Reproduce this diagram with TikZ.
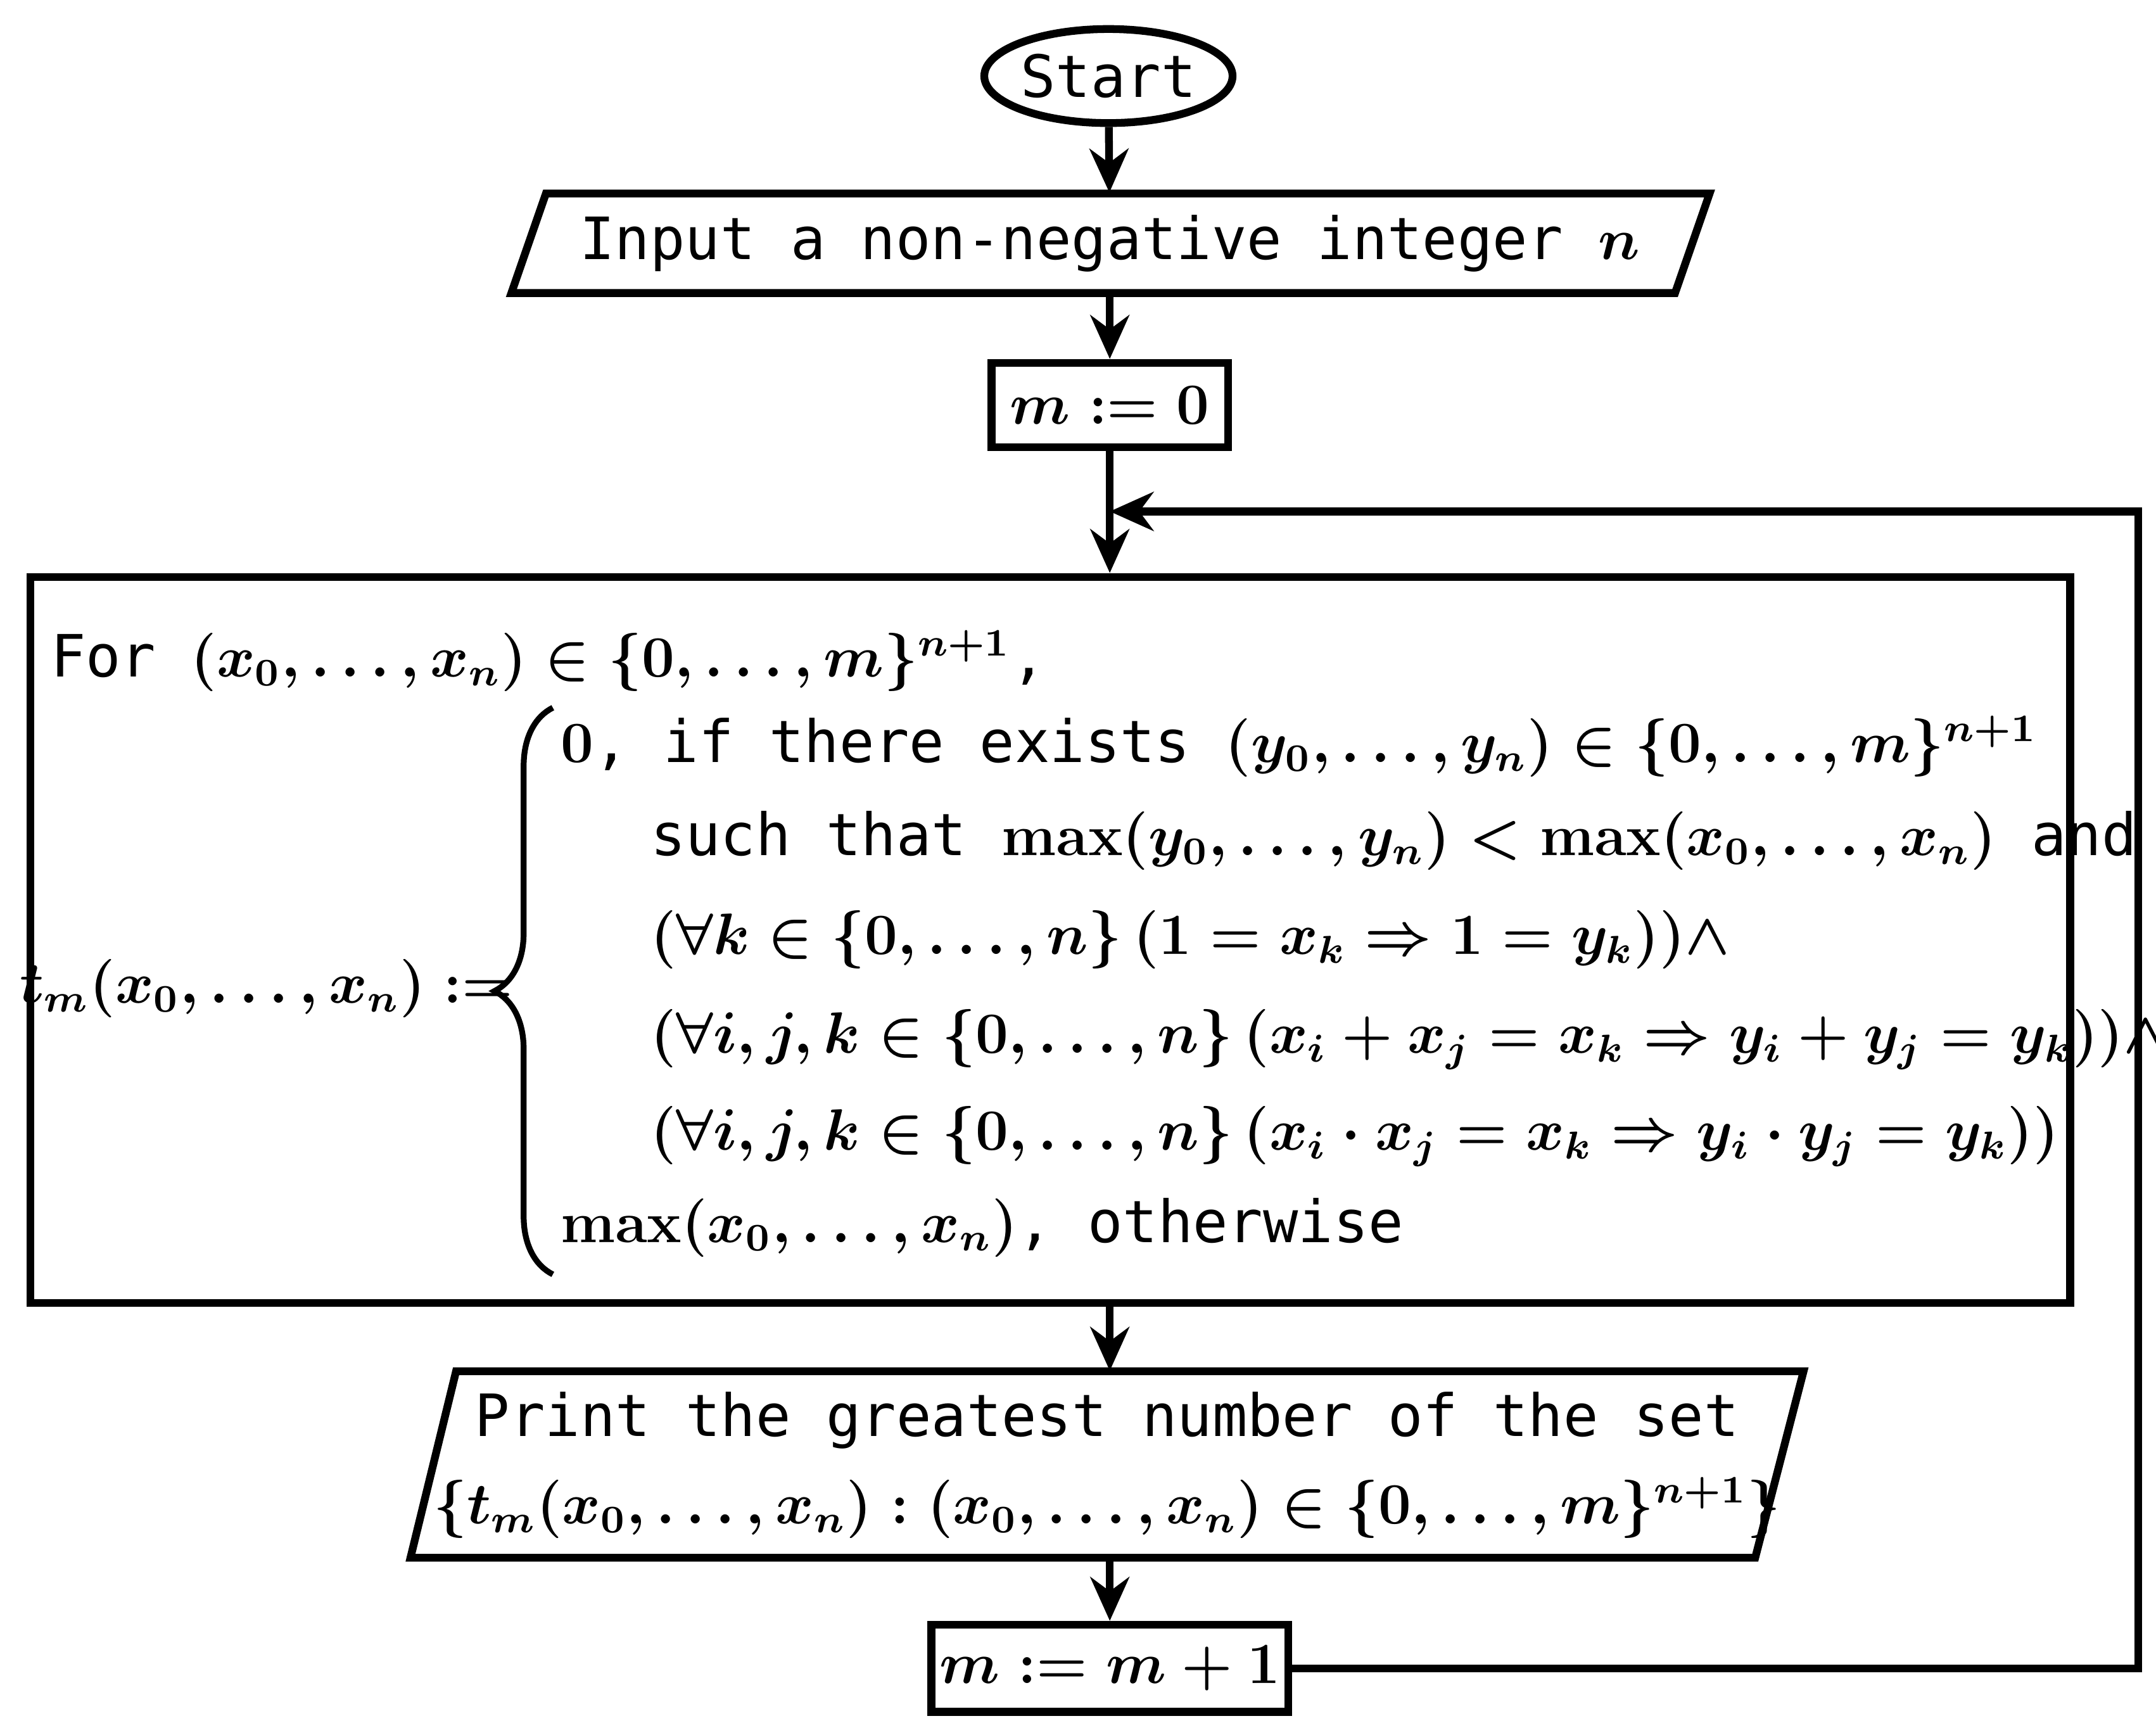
\documentclass[tikz,border=0pt]{standalone}
\usepackage{fontspec}
\usepackage{amsmath,amssymb}
\setmainfont{DejaVu Sans Mono}
\usetikzlibrary{shapes.geometric,decorations.pathreplacing,arrows.meta}
\newcommand{\mxx}{\mathbf{max}}
\begin{document}
\begin{tikzpicture}[x=0.01cm,y=-0.01cm,
  every node/.style={font=\fontsize{12}{14}\selectfont\boldmath},
  box/.style={draw,line width=1.6pt,inner sep=0pt},
  pg/.style={draw,line width=1.6pt},
  arr/.style={line width=1.6pt,-{Stealth[length=9pt,width=8pt]}},
  ln/.style={anchor=west,inner sep=0pt}]
\useasboundingbox (0,0) rectangle (1560,1250);
\node[box,ellipse,minimum width=1.72cm,minimum height=0.68cm] (start) at (802,55) {Start};
\draw[pg] (395,140) -- (1237,140) -- (1212,212) -- (370,212) -- cycle;
\node[inner sep=0pt,minimum width=8.2cm,minimum height=0.72cm] (input) at (803,176) {Input a non-negative integer $n$};
\node[box,minimum width=1.71cm,minimum height=0.61cm] (m0) at (803,293) {$m := 0$};
\node[box,minimum width=14.75cm,minimum height=5.25cm] (big) at (760,680) {};
\coordinate (loop) at (803,370);
\draw[pg] (330,992) -- (1305,992) -- (1270,1127) -- (297,1127) -- cycle;
\node[inner sep=0pt,minimum width=9.4cm,minimum height=1.35cm,align=center] (print) at (801,1060)
 {Print the greatest number of the set\\[4pt] $\{t_m(x_0,\ldots,x_n) : (x_0,\ldots,x_n) \in \{0,\ldots,m\}^{n+1}\}$};
\node[box,minimum width=2.58cm,minimum height=0.63cm] (m1) at (803,1207) {$m := m+1$};
\node[ln] (for) at (36,478) {For $(x_0,\ldots,x_n)\in\{0,\ldots,m\}^{n+1}$,};
\node[anchor=east,inner sep=0pt] (tm) at (372,715) {$t_m(x_0,\ldots,x_n) :=$};
\node[ln] (c1) at (405,540) {$0$, if there exists $(y_0,\ldots,y_n)\in\{0,\ldots,m\}^{n+1}$};
\node[ln] (c2) at (470,608) {such that $\mxx(y_0,\ldots,y_n)<\mxx(x_0,\ldots,x_n)$ and};
\node[ln] (c3) at (470,680) {$(\forall k\in\{0,\ldots,n\}\,(1=x_k\Rightarrow 1=y_k))\wedge$};
\node[ln] (c4) at (470,752) {$(\forall i,j,k\in\{0,\ldots,n\}\,(x_i+x_j=x_k\Rightarrow y_i+y_j=y_k))\wedge$};
\node[ln] (c5) at (470,822) {$(\forall i,j,k\in\{0,\ldots,n\}\,(x_i\cdot x_j=x_k\Rightarrow y_i\cdot y_j=y_k))$};
\node[ln] (c6) at (405,888) {$\mxx(x_0,\ldots,x_n)$, otherwise};
\coordinate (b1) at (400,922); \coordinate (b2) at (400,512);
\draw[line width=1.2pt,decorate,decoration={brace,amplitude=12pt}] (b1) -- (b2);
\draw[arr] (start) -- (input);
\draw[arr] (input) -- (m0);
\draw[arr] (m0) -- (big.north -| m0);
\draw[arr] (big.south -| m0) -- (print.north -| m0);
\draw[arr] (print.south -| m0) -- (m1);
\draw[arr] (m1.east) -- (1547,1207) -- (1547,370) -- (loop);
\end{tikzpicture}
\end{document}
